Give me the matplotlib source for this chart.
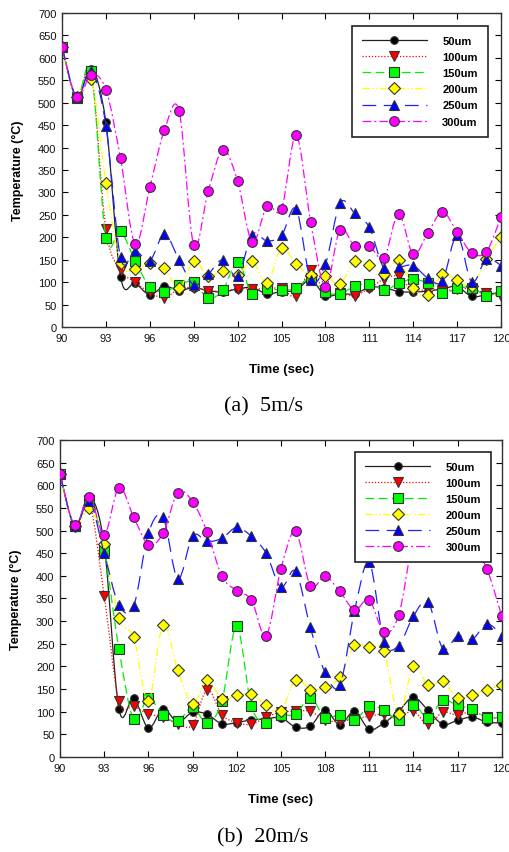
import numpy as np
import matplotlib
matplotlib.use('Agg')
import matplotlib.pyplot as plt
from matplotlib.path import Path
from matplotlib.patches import PathPatch
from matplotlib.lines import Line2D

plt.rcParams['font.family'] = ['Liberation Sans', 'DejaVu Sans']

# --- data: temperature readings once per second, 90..120 s ---
time_sec = list(range(90, 121))
sizes = ['50um', '100um', '150um', '200um', '250um', '300um']

# (a) 5 m/s
temp_5_50 = [625, 510, 575, 456, 112, 98, 72, 91, 81, 88, 81, 78, 85, 88, 74, 79,
             82, 105, 70, 74, 74, 88, 88, 79, 78, 80, 85, 90, 68, 72, 78]
temp_5_100 = [625, 512, 565, 218, 127, 100, 77, 65, 85, 88, 81, 80, 85, 85, 85, 86,
              68, 128, 75, 75, 70, 86, 107, 113, 80, 85, 80, 85, 85, 75, 70]
temp_5_150 = [625, 510, 570, 198, 213, 148, 89, 79, 94, 101, 64, 83, 144, 74, 85, 82,
              86, 110, 78, 74, 91, 96, 82, 97, 107, 97, 75, 86, 88, 70, 80]
temp_5_200 = [625, 512, 553, 321, 143, 129, 142, 131, 86, 146, 114, 124, 115, 146, 98, 175,
              140, 115, 113, 96, 146, 139, 118, 149, 86, 71, 118, 105, 92, 152, 200]
temp_5_250 = [625, 512, 570, 449, 155, 170, 148, 207, 150, 94, 118, 150, 113, 206, 192, 204,
              263, 105, 140, 276, 254, 222, 131, 133, 137, 109, 103, 205, 100, 152, 137]
temp_5_300 = [625, 512, 562, 529, 376, 185, 311, 439, 482, 183, 304, 395, 325, 189, 269, 263,
              427, 233, 90, 217, 180, 180, 154, 252, 162, 210, 256, 212, 165, 168, 245]

# (b) 20 m/s
temp_20_50 = [625, 510, 575, 468, 106, 130, 64, 106, 77, 99, 94, 73, 76, 82, 84, 87,
              66, 68, 104, 71, 101, 61, 75, 101, 132, 103, 72, 81, 88, 77, 75]
temp_20_100 = [625, 510, 560, 356, 123, 112, 95, 88, 73, 71, 149, 93, 76, 72, 88, 99,
               101, 101, 81, 79, 84, 90, 95, 88, 101, 72, 99, 92, 101, 88, 85]
temp_20_150 = [625, 510, 567, 455, 239, 84, 130, 92, 79, 110, 74, 124, 289, 112, 76, 93,
               94, 131, 87, 93, 81, 112, 104, 82, 115, 87, 125, 114, 105, 87, 88]
temp_20_200 = [625, 510, 549, 470, 306, 264, 123, 292, 191, 118, 169, 129, 136, 138, 114, 102,
               171, 149, 154, 176, 247, 242, 233, 94, 200, 158, 167, 130, 137, 149, 158]
temp_20_250 = [625, 510, 565, 450, 336, 333, 494, 529, 393, 488, 476, 483, 507, 487, 450, 375,
               410, 286, 187, 158, 322, 430, 255, 246, 311, 342, 239, 267, 260, 294, 268]
temp_20_300 = [625, 512, 575, 491, 595, 530, 469, 494, 584, 564, 496, 399, 367, 347, 268, 415,
               498, 378, 399, 366, 325, 347, 276, 313, 480, 540, 560, 520, 470, 415, 311]

panels = [
    ('(a)  5m/s', [temp_5_50, temp_5_100, temp_5_150, temp_5_200, temp_5_250, temp_5_300]),
    ('(b)  20m/s', [temp_20_50, temp_20_100, temp_20_150, temp_20_200, temp_20_250, temp_20_300]),
]

# line / marker style per particle size
styles = [
    dict(color='#222222', dash=None, marker='o', mfc='black', ms=5.5),
    dict(color='#ff0000', dash=(1, 1.5), marker='v', mfc='#ff0000', ms=6.5),
    dict(color='#00ee00', dash=(7, 3.5), marker='s', mfc='#00ff00', ms=6.5),
    dict(color='#ffff00', dash=(6, 2, 1, 2, 1, 2), marker='D', mfc='#ffff00', ms=6),
    dict(color='#2222ff', dash=(11, 6), marker='^', mfc='#0000ff', ms=6.5),
    dict(color='#ff00ff', dash=(7, 2.5, 1.5, 2.5), marker='o', mfc='#ff00ff', ms=7),
]


def smooth_path(x, y):
    # Catmull-Rom style bezier through the points (like a smoothed line chart)
    x = np.asarray(x, float)
    y = np.asarray(y, float)
    n = len(x)
    verts = [(x[0], y[0])]
    codes = [Path.MOVETO]
    for i in range(n - 1):
        a = max(i - 1, 0)
        d = min(i + 2, n - 1)
        c1 = (x[i] + (x[i + 1] - x[a]) / 6, y[i] + (y[i + 1] - y[a]) / 6)
        c2 = (x[i + 1] - (x[d] - x[i]) / 6, y[i + 1] - (y[d] - y[i]) / 6)
        verts += [c1, c2, (x[i + 1], y[i + 1])]
        codes += [Path.CURVE4] * 3
    return Path(verts, codes)


def linestyle(st):
    return '-' if st['dash'] is None else (0, st['dash'])


fig = plt.figure(figsize=(5.09, 8.53), dpi=100)
axes_rects = [[0.1218, 0.6155, 0.8625, 0.3681], [0.1179, 0.1114, 0.8678, 0.3716]]
legend_anchor = [(0.970, 0.9586), (0.976, 0.963)]
caption_y = [1 - 407 / 853, 1 - 838 / 853]
xlabel_y = [-0.134, -0.1325]

for k, (caption, series) in enumerate(panels):
    ax = fig.add_axes(axes_rects[k])
    for j, vals in enumerate(series):
        st = styles[j]
        patch = PathPatch(smooth_path(time_sec, vals), fill=False, edgecolor=st['color'],
                          lw=0.9, linestyle=linestyle(st), zorder=2 + j * 0.1)
        ax.add_patch(patch)
        ax.plot(time_sec, vals, linestyle='none', marker=st['marker'], mfc=st['mfc'],
                mec='#333333', mew=0.8, ms=st['ms'], zorder=2.05 + j * 0.1)

    ax.set_xlim(90, 120)
    ax.set_ylim(0, 700)
    ax.set_xticks(range(90, 121, 3))
    ax.set_yticks(range(0, 701, 50))
    ax.tick_params(direction='in', length=4, width=0.8, labelsize=8, pad=4,
                   top=True, right=True, labelcolor='#111111')
    for s in ax.spines.values():
        s.set_linewidth(1.0)
        s.set_color('#333333')

    ax.set_xlabel('Time (sec)', fontsize=9.5, fontweight='bold')
    ax.xaxis.set_label_coords(0.5, xlabel_y[k])
    ax.xaxis.label.set_va('center')
    ax.set_ylabel('Temperature (°C)', fontsize=9, fontweight='bold')
    ax.yaxis.set_label_coords(-0.1, 0.5)
    ax.yaxis.label.set_va('center')

    handles = [Line2D([], [], color=st['color'], lw=0.9, linestyle=linestyle(st),
                      marker=st['marker'], mfc=st['mfc'], mec='#333333', mew=0.8,
                      ms=st['ms'])
               for st in styles]
    leg = ax.legend(handles, sizes, loc='upper right', bbox_to_anchor=legend_anchor[k],
                    numpoints=1, handlelength=5.8, handletextpad=1.4, labelspacing=0.55,
                    borderpad=0.9, borderaxespad=0, fancybox=False, framealpha=1,
                    edgecolor='#222222', prop={'weight': 'bold', 'size': 8})
    leg.get_frame().set_linewidth(1.2)
    leg.set_zorder(10)

    fig.text(0.517, caption_y[k], caption, ha='center', va='center', fontsize=16,
             family=['Liberation Serif', 'DejaVu Serif'])

fig.savefig('out.png', dpi=100)
